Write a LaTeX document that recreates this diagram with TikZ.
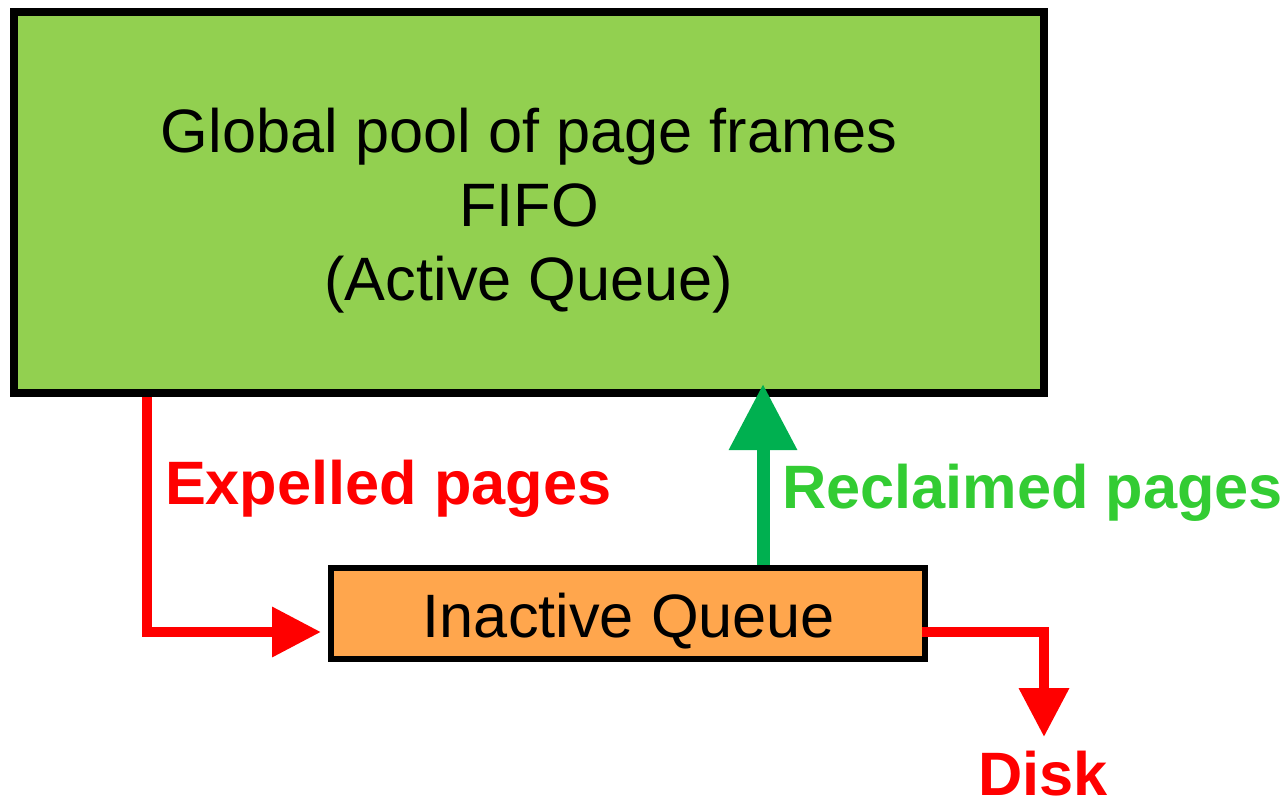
\documentclass[tikz,border=0pt]{standalone}
\usepackage{fontspec}
\setmainfont{Liberation Sans}
\usetikzlibrary{arrows.meta,calc}
\definecolor{poolgreen}{HTML}{92D050}
\definecolor{queueorange}{HTML}{FFA64D}
\definecolor{arrowgreen}{HTML}{00B050}
\definecolor{textgreen}{HTML}{33CC33}
\definecolor{pred}{HTML}{FF0000}
\begin{document}
\begin{tikzpicture}[x=1pt,y=-1pt,
  bigbox/.style={draw=black,line width=8pt,fill=poolgreen,minimum width=1030pt,minimum height=381pt,outer sep=0pt,inner sep=0pt},
  qbox/.style={draw=black,line width=6pt,fill=queueorange,minimum width=594pt,minimum height=91pt,outer sep=0pt,inner sep=0pt},
  txt/.style={inner sep=0pt,outer sep=0pt,anchor=base,font=\fontsize{61.3}{75}\selectfont},
  lbl/.style={inner sep=0pt,outer sep=0pt,font=\fontsize{61.3}{75}\selectfont\bfseries},
  redarrow/.style={draw=pred,line width=10pt,-{Triangle[length=49pt,width=48pt]}},
  greenarrow/.style={draw=arrowgreen,line width=13pt,-{Triangle[length=66pt,width=65pt]}}]
\useasboundingbox (0,0) rectangle (1287,804);
\node[bigbox] (pool) at (529,202.5) {};
\node[txt] (pool1) at (529,152) {Global pool of page frames};
\node[txt] (pool2) at (529,226) {FIFO};
\node[txt] (pool3) at (529,300) {(Active Queue)};
\node[qbox] (queue) at (628,613.5) {};
\node[txt] (queuetext) at (629,637) {Inactive Queue};
\node[lbl,text=pred,anchor=base west] (exp) at (165,504) {Expelled pages};
\node[lbl,text=textgreen,anchor=base west] (rec) at (782,508) {Reclaimed pages};
\node[lbl,text=pred,anchor=base] (disk) at (1043,795) {Disk};
\draw[redarrow] ($(pool.south west)+(133,4)$) |- ($(queue.west)+(-10,18.5)$);
\draw[greenarrow] ($(queue.north)+(135,-3)$) -- ($(pool.south)+(234,-9)$);
\draw[redarrow] ($(queue.east)+(-3,18.5)$) -| ($(disk.base)+(1,-58)$);
\end{tikzpicture}
\end{document}
